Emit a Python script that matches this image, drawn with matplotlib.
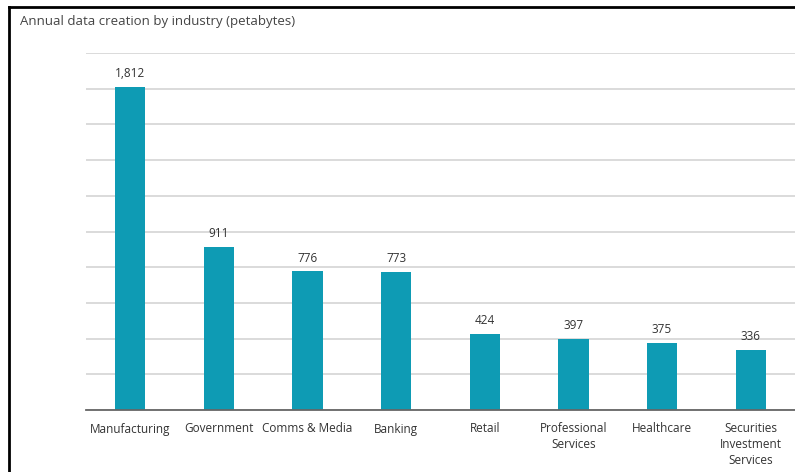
import matplotlib
matplotlib.use("Agg")
import matplotlib.pyplot as plt
from matplotlib.lines import Line2D

categories = ["Manufacturing", "Government", "Comms & Media", "Banking", "Retail",
              "Professional\nServices", "Healthcare", "Securities\nInvestment\nServices"]
values = [1812, 911, 776, 773, 424, 397, 375, 336]
value_labels = ["1,812", "911", "776", "773", "424", "397", "375", "336"]
title = "Annual data creation by industry (petabytes)"

plt.rcParams['font.family'] = ['Open Sans', 'DejaVu Sans']

fig = plt.figure(figsize=(7.95, 4.72), dpi=100)
ax = fig.add_axes([86/795, 1 - 410/472, 1 - 86/795, (410 - 53)/472])

x = list(range(len(categories)))
bars = ax.bar(x, values, width=0.34, color="#0E9BB4", zorder=3)
ax.set_xlim(-0.5, len(categories) - 0.5)
ax.set_ylim(0, 2000)
ax.set_yticks(range(0, 2001, 200))
ax.yaxis.grid(True, color="#d4d4d4", linewidth=1.2, zorder=0)
ax.tick_params(axis='y', length=0, labelleft=False)
ax.set_xticks(x)
ax.set_xticklabels(categories, fontsize=8.5, color="#333333", linespacing=1.25)
ax.tick_params(axis='x', length=0, pad=9)
for s in ["top", "right", "left"]:
    ax.spines[s].set_visible(False)
ax.spines["bottom"].set_color("#666666")
ax.spines["bottom"].set_linewidth(1.3)
ax.spines["bottom"].set_zorder(4)

for xi, v, lbl in zip(x, values, value_labels):
    ax.annotate(lbl, (xi, v), xytext=(0, 5), textcoords="offset points",
                ha="center", va="bottom", fontsize=8.5, color="#333333")

fig.text(20/795, 1 - 21/472, title, fontsize=9.5, color="#444444", ha="left", va="center")

# frame lines (top and left)
fig.add_artist(Line2D([9/795, 1], [1 - 7/472, 1 - 7/472], transform=fig.transFigure,
                      color="black", linewidth=2))
fig.add_artist(Line2D([9/795, 9/795], [0, 1 - 7/472], transform=fig.transFigure,
                      color="black", linewidth=2))

fig.savefig("out.png", dpi=100)
